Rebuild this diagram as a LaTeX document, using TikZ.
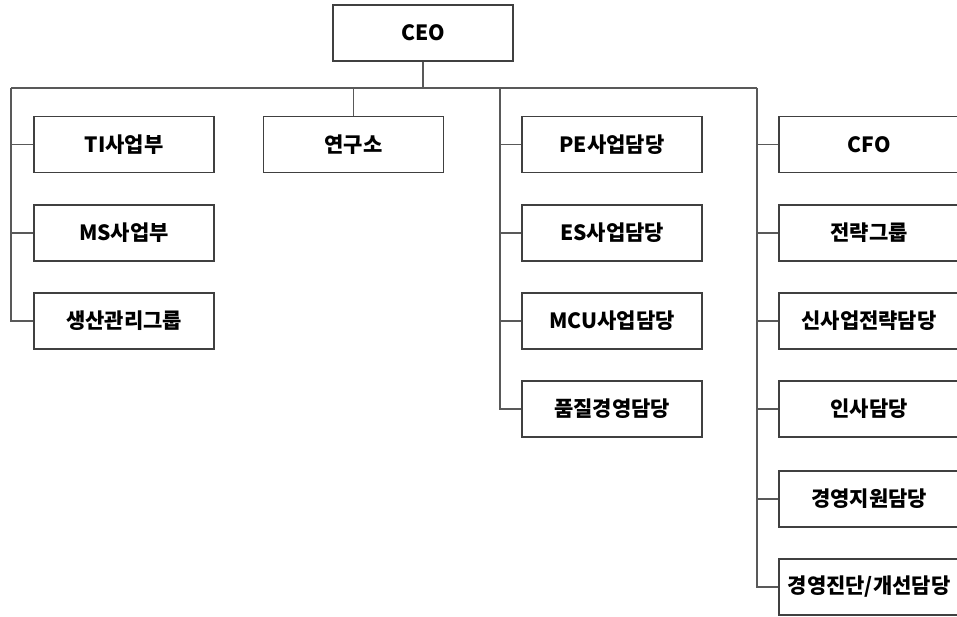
\documentclass[tikz,border=0pt]{standalone}
\usepackage{fontspec}
\setmainfont{Noto Sans CJK KR}
\begin{document}
\begin{tikzpicture}[x=1pt,y=-1pt,
  box/.style={draw=black!75,line width=1.1pt,minimum width=180pt,minimum height=56pt,inner sep=0pt,font=\fontsize{21}{24}\selectfont\bfseries,text=black},
  link/.style={draw=black!65,line width=1.1pt}]
\useasboundingbox (0,0) rectangle (957,617);
% top
\node[box] (ceo) at (423,33) {CEO};
\coordinate (bus) at (424,88);
\coordinate (busL) at (11,88);
\coordinate (busM) at (500,88);
\coordinate (busR) at (757,88);
% left column
\node[box] (ti) at (124,144.5) {TI사업부};
\node[box] (ms) at (124,233) {MS사업부};
\node[box] (gen) at (124,321) {생산관리그룹};
% lab
\node[box] (lab) at (353.5,144.5) {연구소};
% middle column
\node[box] (pe) at (612,144.5) {PE사업담당};
\node[box] (es) at (612,233) {ES사업담당};
\node[box] (mcu) at (612,321) {MCU사업담당};
\node[box] (qm) at (612,409) {품질경영담당};
% right column
\node[box] (cfo) at (869,144.5) {CFO};
\node[box] (str) at (869,233) {전략그룹};
\node[box] (nbs) at (869,321) {신사업전략담당};
\node[box] (hr) at (869,409) {인사담당};
\node[box] (ms2) at (869,499) {경영지원담당};
\node[box] (dx) at (869,587) {경영진단/개선담당};
% connectors
\draw[link] (ceo.south) -- (ceo.south |- bus);
\draw[link] (busL) -- (busR);
\draw[link] (busL) -- (busL |- gen.west) -- (gen.west);
\draw[link] (ti.west) -- (ti.west -| busL);
\draw[link] (ms.west) -- (ms.west -| busL);
\draw[link] (lab.north) -- (lab.north |- bus);
\draw[link] (busM) -- (busM |- qm.west) -- (qm.west);
\draw[link] (pe.west) -- (pe.west -| busM);
\draw[link] (es.west) -- (es.west -| busM);
\draw[link] (mcu.west) -- (mcu.west -| busM);
\draw[link] (busR) -- (busR |- dx.west) -- (dx.west);
\draw[link] (cfo.west) -- (cfo.west -| busR);
\draw[link] (str.west) -- (str.west -| busR);
\draw[link] (nbs.west) -- (nbs.west -| busR);
\draw[link] (hr.west) -- (hr.west -| busR);
\draw[link] (ms2.west) -- (ms2.west -| busR);
\end{tikzpicture}
\end{document}
